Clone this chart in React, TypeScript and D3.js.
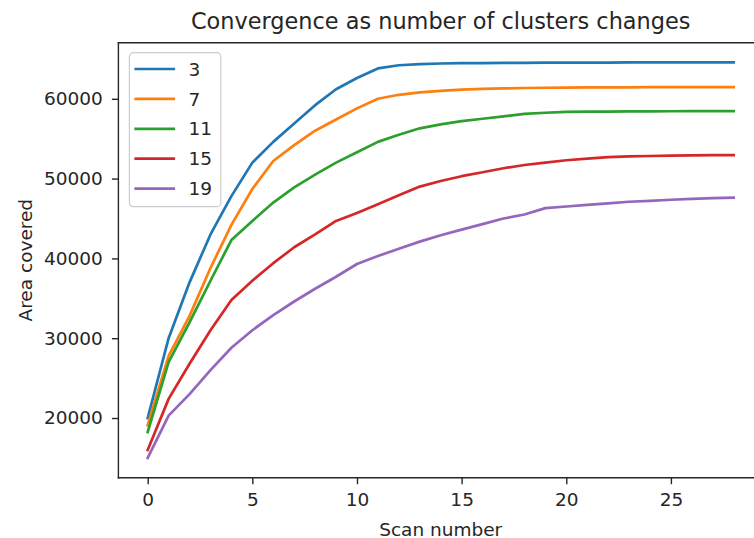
import React, { useEffect, useRef } from 'react';
import * as d3 from 'd3';

const scans = d3.range(0, 29);
const clusterSizes = ['3', '7', '11', '15', '19'];
const colors = ['#1f77b4', '#ff7f0e', '#2ca02c', '#d62728', '#9467bd'];

const area3 = [20000, 30000, 37000, 43000, 47800, 52000, 54600, 56900, 59200, 61200, 62600, 63800, 64200, 64350, 64420, 64460, 64480, 64500, 64510, 64520, 64530, 64540, 64540, 64550, 64550, 64550, 64550, 64550, 64550];
const area7 = [19100, 27800, 32800, 38800, 44200, 48700, 52200, 54200, 56000, 57400, 58800, 60000, 60500, 60800, 61000, 61150, 61250, 61300, 61350, 61380, 61400, 61420, 61430, 61440, 61450, 61450, 61450, 61450, 61450];
const area11 = [18250, 27000, 32000, 37200, 42300, 44700, 47000, 48900, 50500, 52000, 53300, 54600, 55500, 56300, 56800, 57200, 57500, 57800, 58100, 58250, 58350, 58380, 58400, 58420, 58430, 58440, 58450, 58450, 58450];
const area15 = [16000, 22400, 26800, 31000, 34800, 37200, 39400, 41400, 43000, 44700, 45700, 46800, 47900, 49000, 49700, 50300, 50800, 51300, 51700, 52000, 52300, 52500, 52700, 52780, 52830, 52870, 52900, 52930, 52950];
const area19 = [15000, 20300, 23000, 26000, 28800, 31000, 32900, 34600, 36200, 37700, 39300, 40300, 41200, 42100, 42900, 43600, 44300, 45000, 45500, 46300, 46500, 46700, 46900, 47100, 47200, 47350, 47450, 47550, 47600];

const allSeries = [area3, area7, area11, area15, area19];

const xTicks = [0, 5, 10, 15, 20, 25];
const yTicks = [20000, 30000, 40000, 50000, 60000];

const width = 754;
const height = 538;
const margin = { top: 42.7, right: -9, bottom: 60.3, left: 118.4 };
const font = 'DejaVu Sans, sans-serif';
const ink = '#262626';
const labelSize = '18.5px';

const App = () => {
  const ref = useRef(null);

  useEffect(() => {
    const svg = d3.select(ref.current);
    svg.selectAll('*').remove();

    const innerW = width - margin.left - margin.right;
    const innerH = height - margin.top - margin.bottom;

    // matplotlib-style 5% padding around data
    const xMin = d3.min(scans), xMax = d3.max(scans);
    const xPad = (xMax - xMin) * 0.05;
    const yMin = d3.min(allSeries, (s) => d3.min(s));
    const yMax = d3.max(allSeries, (s) => d3.max(s));
    const yPad = (yMax - yMin) * 0.05;

    const x = d3.scaleLinear().domain([xMin - xPad, xMax + xPad]).range([0, innerW]);
    const y = d3.scaleLinear().domain([yMin - yPad, yMax + yPad]).range([innerH, 0]);

    const g = svg.append('g').attr('transform', `translate(${margin.left},${margin.top})`);

    const line = d3.line().x((d, i) => x(scans[i])).y((d) => y(d));

    g.selectAll('.series')
      .data(allSeries)
      .enter()
      .append('path')
      .attr('class', 'series')
      .attr('d', (d) => line(d))
      .attr('fill', 'none')
      .attr('stroke', (d, i) => colors[i])
      .attr('stroke-width', 2.7)
      .attr('stroke-linejoin', 'round')
      .attr('stroke-linecap', 'square');

    const xAxis = d3.axisBottom(x).tickValues(xTicks).tickSize(6.5).tickPadding(9).tickFormat(d3.format('d'));
    const yAxis = d3.axisLeft(y).tickValues(yTicks).tickSize(6.5).tickPadding(9).tickFormat(d3.format('d'));

    const gx = g.append('g').attr('transform', `translate(0,${innerH})`).call(xAxis);
    const gy = g.append('g').call(yAxis);

    [gx, gy].forEach((ax) => {
      ax.select('.domain').remove();
      ax.selectAll('line').attr('stroke', ink).attr('stroke-width', 1.4);
      ax.selectAll('text').attr('fill', ink).style('font-family', font).style('font-size', labelSize);
    });

    // spines
    const spine = (x1, y1, x2, y2) =>
      g.append('line').attr('x1', x1).attr('y1', y1).attr('x2', x2).attr('y2', y2)
        .attr('stroke', ink).attr('stroke-width', 1.4).attr('stroke-linecap', 'square');
    spine(0, 0, 0, innerH);
    spine(0, innerH, innerW, innerH);
    spine(0, 0, innerW, 0);
    spine(innerW, 0, innerW, innerH);

    // legend
    const leg = g.append('g').attr('transform', 'translate(11,10)');
    leg.append('rect')
      .attr('width', 91.4).attr('height', 154).attr('rx', 4)
      .attr('fill', 'white').attr('fill-opacity', 0.8)
      .attr('stroke', '#cccccc').attr('stroke-width', 1.2);
    clusterSizes.forEach((label, i) => {
      const cy = 16.3 + i * 29.9;
      leg.append('line').attr('x1', 5).attr('x2', 45.7).attr('y1', cy).attr('y2', cy)
        .attr('stroke', colors[i]).attr('stroke-width', 2.7);
      leg.append('text').attr('x', 59).attr('y', cy).attr('dy', '0.36em')
        .attr('fill', ink).style('font-family', font).style('font-size', labelSize).text(label);
    });

    // labels
    svg.append('text')
      .attr('x', margin.left + innerW / 2).attr('y', 29)
      .attr('text-anchor', 'middle').attr('fill', ink)
      .style('font-family', font).style('font-size', '22.4px')
      .text('Convergence as number of clusters changes');

    svg.append('text')
      .attr('x', margin.left + innerW / 2).attr('y', 535.5)
      .attr('text-anchor', 'middle').attr('fill', ink)
      .style('font-family', font).style('font-size', labelSize)
      .text('Scan number');

    svg.append('text')
      .attr('transform', `translate(31.5,${margin.top + innerH / 2}) rotate(-90)`)
      .attr('text-anchor', 'middle').attr('fill', ink)
      .style('font-family', font).style('font-size', labelSize)
      .text('Area covered');
  }, []);

  return (
    <svg ref={ref} width={width} height={height}
      style={{ position: 'absolute', left: 0, top: 0, background: 'white' }} />
  );
};

export default App;
